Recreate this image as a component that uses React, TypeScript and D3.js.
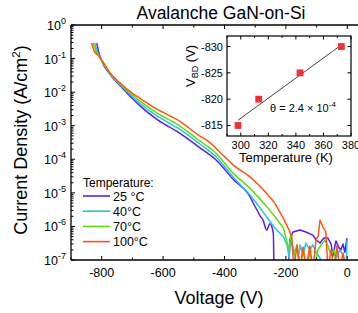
import React from 'react';
import * as d3 from 'd3';

// J-V sweeps at four temperatures: [voltage (V), current density (A/cm²)]
const T25: [number, number][] = [
  [-816, 0.29], [-810, 0.16], [-800, 0.085], [-773, 0.034], [-730, 0.0125], [-700, 6.5e-3], [-675, 3.9e-3],
  [-620, 1.55e-3], [-545, 5.9e-4], [-480, 2.2e-4], [-430, 1.0e-4], [-371, 2.5e-5], [-317, 7.7e-6], [-306, 4.9e-6],
  [-290, 2.6e-6], [-283, 1.95e-6], [-275, 1.6e-6], [-263, 7.8e-7], [-252, 1.2e-6], [-241, 6.3e-7],
  [-239, 5e-8], [-193, 5e-8], [-187, 4.0e-7], [-177, 6.8e-7], [-154, 7.8e-7], [-135, 6.8e-7],
  [-112, 5.5e-7], [-102, 4.0e-7], [-89, 3.2e-7], [-76, 4.5e-7], [-63, 4.5e-7], [-53, 3.0e-7],
  [-47, 1.3e-7], [-37, 3.7e-7], [-27, 2.3e-7], [-21, 2.0e-7], [-14, 3.0e-7], [-8, 1.7e-7], [-1, 4.5e-7],
];
const T40: [number, number][] = [
  [-823, 0.29], [-816, 0.18], [-802, 0.095], [-773, 0.035], [-730, 0.0135], [-700, 7.3e-3], [-675, 4.6e-3],
  [-620, 1.95e-3], [-545, 7.8e-4], [-480, 2.85e-4], [-430, 1.25e-4], [-371, 2.9e-5], [-317, 8.6e-6], [-263, 1.95e-6],
  [-236, 9.0e-7], [-208, 4.9e-7], [-196, 2.8e-7], [-190, 1.15e-7], [-183, 3.9e-7], [-174, 2.0e-7],
  [-164, 5e-8], [-154, 2.8e-7], [-144, 1.41e-7], [-135, 3.2e-7], [-122, 2.0e-7], [-112, 2.8e-7],
  [-102, 1.73e-7], [-89, 1.15e-7], [-79, 5e-8], [-56, 5e-8], [-37, 1.15e-7], [-24, 2.0e-7],
  [-14, 1.4e-7], [-4, 5e-8], [-1, 3.9e-7],
];
const T70: [number, number][] = [
  [-828, 0.29], [-820, 0.18], [-801, 0.092], [-773, 0.036], [-730, 0.0145], [-700, 8.2e-3], [-675, 5.4e-3],
  [-620, 2.4e-3], [-545, 9.8e-4], [-480, 3.5e-4], [-430, 1.6e-4], [-371, 3.8e-5], [-317, 1.36e-5], [-263, 3.9e-6],
  [-236, 1.95e-6], [-208, 9.0e-7], [-198, 3.9e-7], [-190, 2.0e-7], [-184, 5.2e-7], [-174, 1.41e-7],
  [-164, 2.8e-7], [-154, 5e-8], [-144, 2.28e-7], [-131, 5e-8], [-122, 1.73e-7], [-109, 5e-8],
  [-96, 2.0e-7], [-83, 3.0e-7], [-73, 3.9e-7], [-63, 2.6e-7], [-53, 1.41e-7], [-43, 2.0e-7],
  [-34, 5e-8], [-24, 5e-8],
];
const T100: [number, number][] = [
  [-833, 0.29], [-825, 0.17], [-812, 0.125], [-800, 0.09], [-773, 0.038], [-730, 0.0155], [-700, 9.2e-3],
  [-675, 6.5e-3], [-620, 3.1e-3], [-545, 1.35e-3], [-480, 4.9e-4], [-458, 3.7e-4], [-400, 1.2e-4], [-371, 6.7e-5],
  [-317, 3.0e-5], [-263, 9.7e-6], [-236, 4.9e-6], [-208, 1.74e-6], [-187, 6.9e-7], [-181, 4.9e-7], [-174, 5e-8],
  [-164, 2.8e-7], [-154, 5e-8], [-144, 2.44e-7], [-135, 5e-8], [-122, 2.6e-7], [-112, 5e-8],
  [-102, 3.9e-7], [-95, 5.2e-7], [-89, 1.55e-6], [-80, 9.8e-7], [-70, 6.95e-7], [-63, 5e-8],
  [-53, 2.0e-7], [-43, 5e-8], [-34, 2.6e-7], [-24, 5e-8], [-14, 1.61e-7], [-4, 5e-8],
];

const SERIES = [
  { label: '25 °C', color: '#5b1ee6', data: T25 },
  { label: '40°C', color: '#1fc3ef', data: T40 },
  { label: '70°C', color: '#62dd0c', data: T70 },
  { label: '100°C', color: '#ff5511', data: T100 },
];

const X_TICKS = [-800, -600, -400, -200, 0];
const X_MINOR = [-900, -700, -500, -300, -100];
const Y_EXP = [0, -1, -2, -3, -4, -5, -6, -7];

// inset: breakdown voltage vs temperature
const TEMPS_K = [298, 313, 343, 373];
const VBD = [-815, -820, -825, -830];
const FIT_T = [298, 373];
const FIT_V = [-816, -830.3];
const INSET_X_TICKS = [300, 320, 340, 360, 380];
const INSET_Y_TICKS = [-830, -825, -820, -815];

const FONT = '"Liberation Sans", Arial, sans-serif';
const SMOOTH_END = -236; // below this voltage the sweep is smooth, above it is noise

export default function App() {
  const x = d3.scaleLinear().domain([-900, 0]).range([71, 347.3]);
  const y = d3.scaleLog().domain([1e-7, 1]).range([260, 25]);
  const left = 71, right = 358, top = 25, bottom = 260;

  const smooth = d3.line<[number, number]>()
    .x(d => x(d[0]))
    .y(d => y(d[1]))
    .curve(d3.curveMonotoneX);
  const rough = d3.line<[number, number]>()
    .x(d => x(d[0]))
    .y(d => y(d[1]));

  const minorY: number[] = [];
  for (let e = -7; e < 0; e++) {
    for (let k = 2; k <= 9; k++) minorY.push(k * Math.pow(10, e));
  }

  const ix = d3.scaleLinear().domain([290, 380]).range([227, 351]);
  const iy = d3.scaleLinear().domain([-813, -832]).range([136, 36]);
  const iMinorX = d3.range(290, 381, 10);

  return (
    <svg width={358} height={313} style={{ display: 'block', fontFamily: FONT }}>
      <style>{`body{margin:0}`}</style>
      <defs>
        <clipPath id="plot">
          <rect x={left} y={top} width={right - left} height={bottom - top} />
        </clipPath>
      </defs>
      <rect width={358} height={313} fill="#fff" />

      <text x={221} y={18.5} textAnchor="middle" fontSize={17.5}>Avalanche GaN-on-Si</text>

      {/* curves */}
      <g clipPath="url(#plot)" fill="none" strokeWidth={1.5} strokeLinejoin="round">
        {SERIES.map(s => {
          const a = s.data.filter(d => d[0] <= SMOOTH_END);
          const b = s.data.filter(d => d[0] >= SMOOTH_END);
          return (
            <g key={s.label} stroke={s.color}>
              <path d={smooth(a) || ''} />
              <path d={rough(b) || ''} />
            </g>
          );
        })}
      </g>

      {/* frame */}
      <g stroke="#000" strokeWidth={1.3}>
        <line x1={left} x2={right} y1={top} y2={top} />
        <line x1={left} x2={right} y1={bottom} y2={bottom} />
        <line x1={left} x2={left} y1={top} y2={bottom} />
      </g>
      <g stroke="#000" strokeWidth={1}>
        {X_TICKS.map(v => (
          <g key={v}>
            <line x1={x(v)} x2={x(v)} y1={bottom} y2={bottom - 4} />
            <line x1={x(v)} x2={x(v)} y1={top} y2={top + 4} />
          </g>
        ))}
        {X_MINOR.map(v => (
          <g key={v}>
            <line x1={x(v)} x2={x(v)} y1={bottom} y2={bottom - 2.5} />
            <line x1={x(v)} x2={x(v)} y1={top} y2={top + 2.5} />
          </g>
        ))}
        {Y_EXP.map(e => (
          <line key={e} x1={left} x2={left + 4} y1={y(Math.pow(10, e))} y2={y(Math.pow(10, e))} />
        ))}
        {minorY.map((v, i) => (
          <line key={i} x1={left} x2={left + 2.5} y1={y(v)} y2={y(v)} />
        ))}
      </g>

      {X_TICKS.map(v => (
        <text key={v} x={x(v)} y={277} textAnchor="middle" fontSize={12.5}>{v}</text>
      ))}
      {Y_EXP.map(e => (
        <text key={e} x={66} y={y(Math.pow(10, e)) + 5} textAnchor="end" fontSize={12.5}>
          10<tspan fontSize={9} dy={-6}>{e}</tspan>
        </text>
      ))}

      <text x={219} y={304} textAnchor="middle" fontSize={18}>Voltage (V)</text>
      <text transform="translate(27,140) rotate(-90)" textAnchor="middle" fontSize={18}>
        Current Density (A/cm<tspan fontSize={11.5} dy={-7}>2</tspan><tspan dy={7}>)</tspan>
      </text>

      {/* legend */}
      <text x={83} y={187} fontSize={12}>Temperature:</text>
      {SERIES.map((s, i) => (
        <g key={s.label}>
          <line x1={83} x2={110} y1={196 + i * 15.2} y2={196 + i * 15.2} stroke={s.color} strokeWidth={1.6} />
          <text x={113} y={200.5 + i * 15.2} fontSize={12.5}>{s.label}</text>
        </g>
      ))}

      {/* inset */}
      <rect x={227} y={36} width={124} height={100} fill="#fff" stroke="#000" strokeWidth={1.2} />
      <g stroke="#000" strokeWidth={1}>
        {iMinorX.map(t => {
          const len = INSET_X_TICKS.includes(t) ? 3.5 : 2;
          return (
            <g key={t}>
              <line x1={ix(t)} x2={ix(t)} y1={136} y2={136 - len} />
              <line x1={ix(t)} x2={ix(t)} y1={36} y2={36 + len} />
            </g>
          );
        })}
        {INSET_Y_TICKS.map(v => (
          <g key={v}>
            <line x1={227} x2={230.5} y1={iy(v)} y2={iy(v)} />
            <line x1={351} x2={347.5} y1={iy(v)} y2={iy(v)} />
          </g>
        ))}
      </g>
      <line x1={ix(FIT_T[0])} y1={iy(FIT_V[0])} x2={ix(FIT_T[1])} y2={iy(FIT_V[1])} stroke="#444" strokeWidth={1} />
      {TEMPS_K.map((t, i) => (
        <rect key={t} x={ix(t) - 3.4} y={iy(VBD[i]) - 3.4} width={6.8} height={6.8} fill="#ee3333" />
      ))}
      {INSET_Y_TICKS.map(v => (
        <text key={v} x={223} y={iy(v) + 4} textAnchor="end" fontSize={11}>{v}</text>
      ))}
      {INSET_X_TICKS.map(t => (
        <text key={t} x={ix(t)} y={149} textAnchor="middle" fontSize={11}>{t}</text>
      ))}
      <text x={286} y={162} textAnchor="middle" fontSize={13}>Temperature (K)</text>
      <text transform="translate(195,87) rotate(-90)" fontSize={13}>
        V<tspan fontSize={9} dy={3}>BD</tspan><tspan dy={-3}> (V)</tspan>
      </text>
      <text x={270} y={112} fontSize={11}>θ = 2.4 × 10<tspan fontSize={8} dy={-5}>-4</tspan></text>
    </svg>
  );
}
